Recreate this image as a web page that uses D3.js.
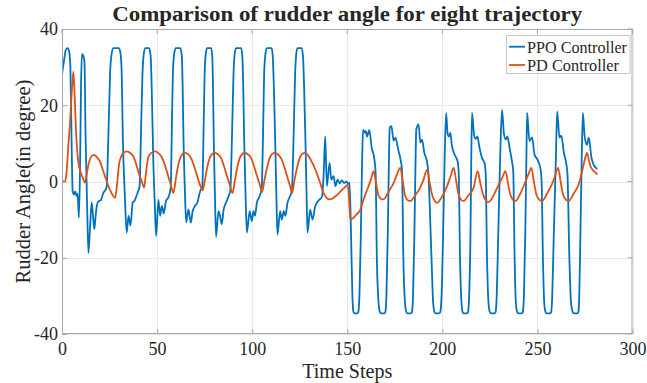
<!DOCTYPE html>
<html>
<head>
<meta charset="utf-8">
<script src="https://cdn.jsdelivr.net/npm/d3@7"></script>
<style>
  html, body { margin: 0; padding: 0; background: #fff; }
  svg { display: block; }
  text { font-family: "Liberation Serif", "Times New Roman", serif; fill: #262626; }
</style>
</head>
<body>
<svg id="chart" width="647" height="383"></svg>
<script>
// ---------------- data ----------------
const titleText = "Comparison of rudder angle for eight trajectory";
const xLabelText = "Time Steps";
const yLabelText = "Rudder Angle(in degree)";
const seriesNames = ["PPO Controller", "PD Controller"];
const xTicks = [0, 50, 100, 150, 200, 250, 300];
const yTicks = [-40, -20, 0, 20, 40];

// [time step, rudder angle]
const ppoData = [
[0,28],[1,31.5],[2,34.5],[3,35],[3.8,34],[4.4,30],[5,12],[5.6,-2.5],[6.3,-3.4],[7,-2.6],[7.6,-3.8],[8.2,-3.2],[8.9,-9.5],[9.5,4],[10,25],[10.5,33.5],[11.2,33],[11.8,31.5],[12.4,12],[13.2,-6],[13.9,-18.8],[14.7,-12.5],[15.6,-5.5],[16.3,-9],[17,-12.5],[17.6,-9.5],[18.3,-6.4],[19.2,-5.2],[20.3,-5],[21,-4.2],[21.7,-3],[22.6,-2.4],[23.5,-1.3],
[24.4,12],[25.3,28.5],[26.1,33.5],[27,35],[30,35],[30.8,33.5],[31.4,28.4],[32,11],[33,-3],[34,-13.4],[35,-9],[36,-11.5],[37.2,-5.5],[38.2,-5],[39,-4],[40,-2.6],[40.8,-1.3],
[41.5,12],[42.3,28],[43,33.5],[43.8,35],[45.8,35],[46.6,33],[47.2,24],[48,5.7],[48.8,-6],[49.5,-14.3],[50.7,-4.8],[51.6,-9],[52.5,-6.4],[53.5,-8.4],[54.7,-5],[55.8,-4.3],[57.2,-1.6],
[57.7,12],[58.3,28.4],[59,33.5],[59.8,35],[62.2,35],[63,33],[63.4,26],[63.9,11],[64.6,-2],[65.3,-10.7],[66.5,-7.3],[67.7,-10.8],[68.7,-7.8],[70,-6.4],[71.2,-5.5],[72.6,-2.6],[73.8,-1.3],
[74.4,12],[75,28.4],[75.6,33.5],[76.3,35],[78.4,35],[79,33],[79.4,25],[79.8,11],[80.4,-3],[81,-14.5],[82.3,-7.8],[83.1,-9],[84,-11.2],[85,-7.4],[86.3,-5.5],[87.5,-4],[88.5,-2.3],
[89.4,12],[90.2,28.4],[90.8,33.5],[91.5,35],[94.2,35],[94.8,33],[95.3,25],[95.8,11],[96.5,-3],[97.2,-13.4],[98.7,-7.8],[99.8,-10.4],[100.7,-7.8],[101.5,-9],[102.5,-5.5],[103.8,-4],[105,-1.9],
[105.7,12],[106.3,28.4],[107,33.5],[107.6,35],[110.2,35],[110.8,33],[111.4,25],[112.1,11],[112.7,-3],[113.3,-13.9],[114.7,-7.8],[115.6,-10],[116.6,-7.8],[117.5,-9],[118.6,-5.5],[119.8,-4],[120.9,-2.3],
[121.8,12],[122.6,28.4],[123.2,33.5],[123.8,35],[126,35],[126.7,33],[127.3,25],[128,11],[128.6,-3],[129.1,-13.4],[130.5,-7.4],[131.7,-10],[133.2,-6.4],[134.9,-5],[136.7,-4],[137.6,2],[138.4,11.8],[139.3,-1.2],[140.7,4.9],[141.6,0.5],[142.8,1.4],[143.8,-1.2],[144.9,0.5],[146,-0.5],[147.2,0.3],[148.3,-0.4],[149.5,0],[150.5,-0.6],[151.2,-0.3],
[152,-14],[152.7,-30],[153.3,-34.3],[153.8,-34.6],[155.3,-34.6],[155.8,-34.3],[156.4,-30],[157.1,-15],[157.8,5],[158.3,13.6],[159.2,12.8],[159.8,13.2],[160.4,11.8],[161.6,13.5],[163,8.4],[163.8,7.2],[164.4,5.3],[164.9,2.5],
[165.6,-21],[166.5,-32],[167.2,-34.3],[167.7,-34.6],[169.5,-34.6],[170,-34.3],[170.6,-30],[171.3,-14],[172,8],[172.3,14],[173.2,14.5],[174.4,10.7],[175.3,11.5],[176.8,8.4],[178.2,5.3],[178.8,3],
[179.5,-20],[180.4,-32],[181.1,-34.3],[181.6,-34.6],[183.5,-34.6],[184,-34.3],[184.6,-30],[185.3,-14],[186,8],[186.3,13.7],[187.5,15],[188.4,10.2],[189.3,11],[190.5,7.6],[192,5],[192.6,2.5],
[194.3,-20],[195.2,-32],[195.9,-34.3],[196.4,-34.6],[198.4,-34.6],[198.9,-34.3],[199.6,-30],[200.4,-14],[201.2,6],[202,18],[202.8,12.4],[203.5,11.8],[204.2,12.8],[205,9.5],[206.5,7],[208,5.3],[208.6,2.5],
[209.3,-20],[210.1,-32],[210.7,-34.3],[211.2,-34.6],[213,-34.6],[213.5,-34.3],[214.1,-30],[214.8,-14],[215.2,5],[215.6,18],[216.8,11.8],[217.6,11.2],[218.4,11.8],[219.5,9],[221,6],[222.2,4.8],[222.8,2],
[223.5,-20],[224.3,-32],[225,-34.3],[225.5,-34.6],[227.5,-34.6],[228,-34.3],[228.6,-30],[229.4,-14],[230.5,8],[231.4,18.8],[232.4,12.5],[233.4,11],[234.2,11.8],[235.5,8.4],[236.7,5],[237.3,2.5],
[238,-20],[238.7,-32],[239.4,-34.3],[239.9,-34.6],[241.8,-34.6],[242.3,-34.3],[242.9,-30],[243.6,-14],[244.2,6],[244.6,18],[245.8,10.6],[247.2,11.6],[248.5,7],[250,5.8],[251.6,3.3],[252.2,0],
[252.9,-20],[253.6,-32],[254.3,-34.3],[254.8,-34.6],[256.7,-34.6],[257.2,-34.3],[257.8,-30],[258.6,-14],[259.7,6],[260.4,18.4],[261.6,11.5],[262.6,12],[263.9,7.6],[265.2,4.6],[265.8,2],
[266.8,-20],[267.7,-32],[268.6,-34.3],[269.1,-34.6],[271,-34.6],[271.5,-34.3],[272,-30],[272.6,-14],[273.3,6],[273.9,18],[274.8,12],[276,9.6],[277,11.5],[278.4,6.3],[279.5,4.5],[280.5,3.7],[281.5,3.3]
];

const pdData = [
[0,0],[1.6,0],[2.5,3],[3.3,9.2],[4.3,16],[5.2,24],[6,28.8],[6.6,23],[7.3,14],[8.6,5],[9.8,2.5],[11,0.8],[12.1,-0.3],[13,2],[14,4.6],[15.2,6.4],[16.5,7],[17.8,6.7],[19,6],[20.2,5],[21.5,3],[23,0.8],[24.5,-1.3],[26,-3],[27.9,-4.3],
[28.9,-1],[30,4.5],[31,6.4],[32.5,7.5],[34,7.9],[35.5,7.6],[37.5,6.6],[39,4.6],[40.5,2],[42,0],[43.2,-1.6],
[44.2,2.5],[45.4,6.4],[47,7.5],[49,7.9],[50.5,7.5],[52.5,6.3],[54,4.5],[55.5,2],[57,-0.5],[58.6,-3],
[59.8,0.5],[61,4],[62.5,6.5],[64.5,7.5],[66,7.3],[68,6],[69.5,4],[71,1.5],[72.5,-0.8],[74,-2.3],
[75.2,0.5],[76.5,4],[78,6.5],[80.2,7.5],[81.8,7.2],[83.8,6],[85.2,4],[86.7,1.5],[88.2,-0.8],[89.7,-3],
[91,0.5],[92.3,4],[93.8,6.5],[96,7.5],[97.6,7.2],[99.6,6],[101,4],[102.5,1.5],[104,-0.8],[105.2,-2.8],
[106.5,0.5],[108,4],[109.5,6.5],[111.7,7.5],[113.3,7.2],[115.3,6],[116.8,4],[118.3,1.5],[119.7,-0.8],[121,-3],
[122.3,0.5],[123.8,4],[125.3,6.5],[127.5,7.5],[129.5,6.8],[131.5,5],[133.5,2.8],[135.5,0],[137.5,-3],[139,-4.2],[141,-4.7],[143,-4.2],[145,-3.4],[147,-2.3],[149,-1.4],[150.3,-0.8],
[151,-5],[151.6,-10],[153.3,-9.5],[155,-8.6],[156.8,-7.5],[158.6,-4.7],[160,-2.8],[161.2,-1.2],[162.6,0.8],[163.9,2.7],[165.2,-0.5],[166.5,-3.8],[168,-4.6],[169.1,-4.7],
[170.8,-3.6],[172.6,-2],[174.5,-0.3],[176.1,1.8],[177.9,3.6],[179.2,0],[180.5,-3.8],[181.8,-4.9],[183.2,-5.1],
[185.5,-3.8],[187.9,-2],[190,0.3],[192,3.1],[193.4,-0.5],[194.7,-3.6],[196,-5.1],[197.2,-5.6],
[199.8,-4],[202.5,-1.2],[204.3,1.3],[206,3.6],[207.3,0],[208.6,-3.5],[209.9,-4.8],[211.2,-5.1],
[213.8,-3.6],[216.4,-1.7],[218.6,2.7],[220,-0.5],[221.5,-3.5],[223,-5],[224.4,-5.4],
[227,-3.6],[229.6,-0.8],[231.5,1],[233.2,2.7],[234.5,-0.5],[235.8,-3.5],[237.1,-4.8],[238.4,-5.1],
[241,-3.2],[243.5,-0.3],[245.2,1.8],[246.8,3.6],[248.1,0],[249.5,-3.5],[251,-4.8],[252.5,-5.1],
[255,-3.2],[257.7,-0.6],[259.3,1.5],[260.9,3.6],[262.2,0],[263.5,-3.5],[265,-4.8],[266.5,-5.1],
[269,-3.2],[271.8,-0.6],[273.5,2.7],[274.8,5.5],[276.1,7.5],[277,5.8],[277.9,4],[279.2,3],[280.5,2.3],[281.5,1.8]
];

// ---------------- layout ----------------
const plot = { left: 62, right: 632.5, top: 29, bottom: 334 };
const colors = ["#0072BD", "#D95319"];

const svg = d3.select("#chart");
const x = d3.scaleLinear().domain([0, 300]).range([plot.left, plot.right]);
const y = d3.scaleLinear().domain([-40, 40]).range([plot.bottom, plot.top]);

// background
svg.append("rect").attr("x", plot.left).attr("y", plot.top)
  .attr("width", plot.right - plot.left).attr("height", plot.bottom - plot.top)
  .attr("fill", "#fff");

// grid
const grid = svg.append("g").attr("stroke", "#e9e9e9").attr("stroke-width", 1);
grid.selectAll(".gx").data(xTicks).join("line")
  .attr("x1", d => Math.round(x(d)) + 0.5).attr("x2", d => Math.round(x(d)) + 0.5)
  .attr("y1", plot.top).attr("y2", plot.bottom);
grid.selectAll(".gy").data(yTicks).join("line")
  .attr("y1", d => Math.round(y(d)) + 0.5).attr("y2", d => Math.round(y(d)) + 0.5)
  .attr("x1", plot.left).attr("x2", plot.right);

// lines
svg.append("clipPath").attr("id", "clip").append("rect")
  .attr("x", plot.left).attr("y", plot.top)
  .attr("width", plot.right - plot.left).attr("height", plot.bottom - plot.top);

const line = d3.line().x(d => x(d[0])).y(d => y(d[1])).curve(d3.curveMonotoneX);
const series = [ppoData, pdData];
svg.append("g").attr("clip-path", "url(#clip)")
  .selectAll("path").data(series).join("path")
  .attr("d", line)
  .attr("fill", "none")
  .attr("stroke", (d, i) => colors[i])
  .attr("stroke-width", 1.8)
  .attr("stroke-linejoin", "round");

// axes
const axisColor = "#a8a8a8";
const xAxis = svg.append("g").attr("transform", `translate(0,${plot.bottom})`)
  .call(d3.axisBottom(x).tickValues(xTicks).tickSize(-5).tickPadding(8).tickFormat(d3.format("d")));
const yAxis = svg.append("g").attr("transform", `translate(${plot.left},0)`)
  .call(d3.axisLeft(y).tickValues(yTicks).tickSize(-5).tickPadding(4).tickFormat(d3.format("d")));
[xAxis, yAxis].forEach(g => {
  g.attr("font-family", null).attr("font-size", null);
  g.select(".domain").remove();
  g.selectAll(".tick line").attr("stroke", axisColor);
  g.selectAll(".tick text").attr("font-size", 18).attr("fill", "#333");
});
yAxis.selectAll(".tick text").text(d => d < 0 ? "-" + Math.abs(d) : d);

// top/right ticks
const topTicks = svg.append("g").attr("stroke", axisColor);
topTicks.selectAll(".tt").data(xTicks).join("line")
  .attr("x1", d => x(d)).attr("x2", d => x(d)).attr("y1", plot.top).attr("y2", plot.top + 5);
topTicks.selectAll(".rt").data(yTicks).join("line")
  .attr("y1", d => y(d)).attr("y2", d => y(d)).attr("x1", plot.right).attr("x2", plot.right - 5);

// box
svg.append("rect").attr("x", plot.left + 0.5).attr("y", plot.top + 0.5)
  .attr("width", plot.right - plot.left - 1).attr("height", plot.bottom - plot.top - 1)
  .attr("fill", "none").attr("stroke", axisColor).attr("stroke-width", 1);

// title
svg.append("text").attr("x", (plot.left + plot.right) / 2).attr("y", 21)
  .attr("text-anchor", "middle").attr("font-weight", "bold").attr("font-size", 20)
  .attr("fill", "#000")
  .attr("textLength", 470).attr("lengthAdjust", "spacingAndGlyphs")
  .text(titleText);

// axis labels
svg.append("text").attr("x", (plot.left + plot.right) / 2).attr("y", 378)
  .attr("text-anchor", "middle").attr("font-size", 20).attr("fill", "#333")
  .attr("textLength", 90).attr("lengthAdjust", "spacingAndGlyphs")
  .text(xLabelText);
svg.append("text").attr("transform", `translate(30,${(plot.top + plot.bottom) / 2}) rotate(-90)`)
  .attr("text-anchor", "middle").attr("font-size", 20.5).attr("fill", "#333")
  .text(yLabelText);

// legend
const legend = svg.append("g");
legend.append("rect").attr("x", 506.5).attr("y", 35.5).attr("width", 123.5).attr("height", 38)
  .attr("fill", "#fff").attr("stroke", "#c8c8c8").attr("stroke-width", 1);
const legendLens = [100, 92];
seriesNames.forEach((name, i) => {
  const cy = 46.7 + i * 18.3;
  legend.append("line").attr("x1", 509).attr("x2", 525).attr("y1", cy).attr("y2", cy)
    .attr("stroke", colors[i]).attr("stroke-width", 1.8);
  legend.append("text").attr("x", 527).attr("y", cy + 5.8).attr("font-size", 17).attr("fill", "#222")
    .attr("textLength", legendLens[i]).attr("lengthAdjust", "spacingAndGlyphs")
    .text(name);
});
</script>
</body>
</html>
